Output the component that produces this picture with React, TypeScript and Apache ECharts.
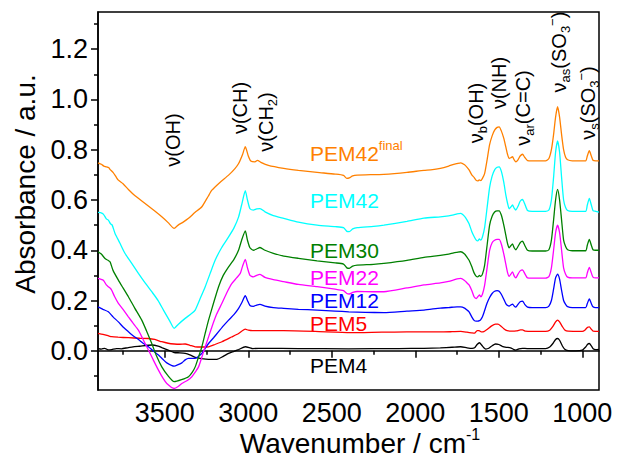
import React, { useEffect, useRef } from "react";
import * as echarts from "echarts";

// ---- data (wavenumber cm-1, absorbance a.u.) ----
const pem42final = [[3900,0.748],[3880,0.742],[3865,0.735],[3850,0.732],[3835,0.728],[3828,0.722],[3810,0.71],[3790,0.69],[3778,0.679],[3750,0.665],[3718,0.642],[3680,0.618],[3618,0.586],[3560,0.556],[3518,0.533],[3480,0.51],[3444,0.487],[3420,0.5],[3390,0.512],[3358,0.527],[3320,0.55],[3278,0.573],[3240,0.615],[3218,0.639],[3170,0.67],[3118,0.699],[3080,0.725],[3058,0.745],[3035,0.78],[3018,0.812],[3000,0.775],[2985,0.755],[2960,0.752],[2945,0.758],[2925,0.75],[2880,0.738],[2788,0.726],[2700,0.718],[2588,0.71],[2480,0.703],[2430,0.698],[2410,0.686],[2395,0.688],[2375,0.696],[2348,0.699],[2250,0.701],[2188,0.702],[2050,0.71],[1948,0.718],[1908,0.72],
  [1850,0.726],[1800,0.735],[1770,0.742],[1750,0.745],[1728,0.748],[1705,0.74],[1690,0.73],[1678,0.72],[1662,0.7],[1648,0.69],[1635,0.678],[1626,0.676],[1616,0.68],[1608,0.677],[1598,0.686],[1585,0.705],[1570,0.76],[1555,0.82],[1540,0.855],[1525,0.878],[1510,0.889],[1498,0.891],[1485,0.875],[1470,0.845],[1458,0.811],[1447,0.78],[1438,0.765],[1428,0.768],[1418,0.772],[1408,0.76],[1398,0.752],[1385,0.76],[1372,0.775],[1358,0.782],[1345,0.77],[1328,0.757],[1300,0.756],[1220,0.756],[1200,0.765],[1185,0.8],[1172,0.86],[1160,0.93],[1148,0.971],[1136,0.93],[1124,0.86],[1112,0.8],[1100,0.77],[1088,0.76],[1060,0.756],[980,0.756],[970,0.775],[958,0.796],[946,0.775],[936,0.758],[920,0.756],[900,0.756]];

const pem42 = [[3900,0.551],[3885,0.55],[3868,0.544],[3850,0.525],[3838,0.52],[3825,0.505],[3815,0.5],[3798,0.467],[3770,0.43],[3738,0.387],[3700,0.35],[3658,0.308],[3620,0.272],[3578,0.235],[3540,0.2],[3508,0.162],[3470,0.118],[3444,0.089],[3420,0.105],[3378,0.129],[3340,0.148],[3318,0.162],[3290,0.205],[3258,0.255],[3230,0.305],[3198,0.361],[3160,0.41],[3118,0.453],[3085,0.49],[3058,0.533],[3040,0.58],[3018,0.637],[3005,0.6],[2990,0.565],[2970,0.56],[2950,0.565],[2930,0.566],[2900,0.553],[2850,0.538],[2788,0.527],[2700,0.512],[2588,0.5],[2480,0.494],[2430,0.49],[2410,0.475],[2395,0.474],[2375,0.485],[2348,0.49],[2250,0.495],[2188,0.5],[2050,0.515],[1948,0.528],
  [1850,0.533],[1800,0.537],[1770,0.541],[1750,0.545],[1728,0.547],[1705,0.535],[1690,0.52],[1678,0.505],[1662,0.475],[1648,0.455],[1635,0.44],[1626,0.437],[1616,0.445],[1608,0.44],[1598,0.453],[1585,0.49],[1570,0.57],[1555,0.65],[1540,0.695],[1525,0.72],[1510,0.73],[1498,0.732],[1485,0.715],[1470,0.67],[1458,0.62],[1447,0.585],[1438,0.565],[1428,0.572],[1418,0.58],[1408,0.568],[1398,0.56],[1385,0.575],[1372,0.595],[1358,0.602],[1345,0.585],[1328,0.558],[1300,0.555],[1220,0.555],[1200,0.56],[1185,0.6],[1172,0.69],[1160,0.79],[1148,0.835],[1136,0.79],[1124,0.69],[1112,0.6],[1100,0.57],[1088,0.558],[1060,0.555],[980,0.555],[970,0.58],[958,0.606],[946,0.58],[936,0.558],[920,0.555],[900,0.552]];

const pem30 = [[3900,0.394],[3880,0.385],[3858,0.367],[3840,0.36],[3828,0.354],[3810,0.32],[3778,0.281],[3750,0.25],[3718,0.215],[3680,0.17],[3638,0.122],[3610,0.08],[3578,0.029],[3550,-0.02],[3518,-0.064],[3480,-0.1],[3444,-0.123],[3400,-0.115],[3358,-0.103],[3335,-0.085],[3318,-0.064],[3298,-0.025],[3278,0.016],[3258,0.07],[3238,0.122],[3208,0.19],[3178,0.255],[3150,0.3],[3118,0.334],[3085,0.365],[3058,0.401],[3040,0.44],[3018,0.477],[3005,0.44],[2990,0.41],[2970,0.4],[2950,0.405],[2930,0.411],[2900,0.4],[2850,0.388],[2788,0.377],[2700,0.368],[2588,0.358],[2480,0.35],[2430,0.345],[2410,0.33],[2395,0.328],[2375,0.337],[2348,0.341],[2250,0.344],[2188,0.348],[2050,0.36],[1948,0.372],
  [1850,0.38],[1800,0.385],[1770,0.39],[1750,0.392],[1728,0.394],[1705,0.385],[1690,0.372],[1678,0.36],[1662,0.335],[1648,0.31],[1635,0.296],[1626,0.294],[1616,0.3],[1608,0.296],[1598,0.305],[1585,0.34],[1570,0.42],[1555,0.5],[1540,0.535],[1525,0.552],[1510,0.557],[1498,0.557],[1485,0.54],[1470,0.5],[1458,0.46],[1447,0.425],[1438,0.41],[1428,0.418],[1418,0.425],[1408,0.41],[1398,0.402],[1385,0.415],[1372,0.43],[1358,0.436],[1345,0.42],[1328,0.4],[1300,0.397],[1220,0.397],[1200,0.402],[1185,0.44],[1172,0.52],[1160,0.6],[1148,0.642],[1136,0.6],[1124,0.52],[1112,0.44],[1100,0.415],[1088,0.402],[1060,0.398],[980,0.398],[970,0.42],[958,0.443],[946,0.42],[936,0.402],[920,0.4],[900,0.4]];

const pem22 = [[3900,0.288],[3885,0.285],[3868,0.281],[3850,0.262],[3838,0.255],[3825,0.248],[3818,0.241],[3800,0.215],[3778,0.189],[3750,0.165],[3718,0.135],[3690,0.11],[3658,0.082],[3630,0.045],[3598,0.003],[3570,-0.035],[3538,-0.077],[3510,-0.11],[3488,-0.13],[3444,-0.15],[3420,-0.142],[3398,-0.13],[3365,-0.118],[3338,-0.103],[3318,-0.085],[3298,-0.064],[3278,-0.025],[3258,0.016],[3238,0.055],[3218,0.095],[3190,0.145],[3158,0.189],[3128,0.232],[3098,0.268],[3070,0.29],[3048,0.308],[3035,0.335],[3018,0.364],[3005,0.33],[2990,0.3],[2970,0.294],[2950,0.3],[2930,0.304],[2900,0.292],[2850,0.283],[2788,0.275],[2700,0.264],[2588,0.255],[2480,0.245],[2430,0.239],[2410,0.228],[2395,0.226],[2375,0.232],[2348,0.236],[2250,0.235],[2188,0.235],[2050,0.25],[1948,0.262],
  [1850,0.27],[1800,0.276],[1770,0.282],[1750,0.286],[1728,0.288],[1705,0.28],[1690,0.27],[1678,0.262],[1662,0.24],[1648,0.215],[1635,0.208],[1626,0.215],[1616,0.222],[1608,0.215],[1598,0.225],[1585,0.26],[1570,0.33],[1555,0.4],[1540,0.43],[1525,0.44],[1510,0.443],[1498,0.443],[1485,0.425],[1470,0.385],[1458,0.345],[1447,0.31],[1438,0.296],[1428,0.305],[1418,0.314],[1408,0.298],[1398,0.29],[1385,0.305],[1372,0.318],[1358,0.322],[1345,0.308],[1328,0.29],[1300,0.289],[1220,0.289],[1200,0.295],[1185,0.33],[1172,0.4],[1160,0.47],[1148,0.5],[1136,0.47],[1124,0.4],[1112,0.33],[1100,0.305],[1088,0.293],[1060,0.29],[980,0.29],[970,0.31],[958,0.332],[946,0.31],[936,0.293],[920,0.29],[900,0.29]];

const pem12 = [[3900,0.175],[3870,0.165],[3838,0.155],[3810,0.135],[3778,0.115],[3750,0.095],[3718,0.076],[3690,0.06],[3658,0.045],[3630,0.03],[3598,0.016],[3570,0.0],[3538,-0.017],[3510,-0.035],[3488,-0.048],[3444,-0.061],[3420,-0.055],[3398,-0.048],[3378,-0.036],[3358,-0.03],[3318,-0.03],[3298,-0.022],[3278,-0.01],[3258,0.01],[3238,0.029],[3208,0.052],[3178,0.076],[3148,0.1],[3118,0.122],[3085,0.145],[3058,0.169],[3040,0.19],[3018,0.219],[3005,0.2],[2990,0.18],[2970,0.177],[2950,0.182],[2930,0.185],[2900,0.178],[2850,0.172],[2788,0.169],[2700,0.165],[2588,0.162],[2480,0.158],[2398,0.155],[2300,0.153],[2188,0.152],[2050,0.158],[1948,0.162],
  [1850,0.17],[1800,0.172],[1770,0.174],[1750,0.175],[1728,0.175],[1705,0.17],[1690,0.162],[1678,0.155],[1662,0.135],[1648,0.121],[1635,0.118],[1626,0.118],[1616,0.12],[1608,0.124],[1598,0.135],[1585,0.16],[1570,0.19],[1555,0.212],[1540,0.228],[1525,0.237],[1510,0.239],[1498,0.237],[1485,0.225],[1470,0.205],[1458,0.188],[1447,0.18],[1438,0.178],[1428,0.182],[1418,0.186],[1408,0.178],[1398,0.174],[1385,0.185],[1372,0.195],[1358,0.198],[1345,0.185],[1328,0.174],[1300,0.172],[1220,0.172],[1200,0.178],[1185,0.2],[1172,0.245],[1160,0.29],[1148,0.305],[1136,0.285],[1124,0.24],[1112,0.2],[1100,0.185],[1088,0.176],[1060,0.172],[980,0.172],[970,0.188],[958,0.206],[946,0.188],[936,0.175],[920,0.172],[900,0.172]];

const pem5 = [[3900,0.069],[3870,0.065],[3840,0.06],[3818,0.056],[3780,0.054],[3718,0.052],[3650,0.05],[3598,0.049],[3560,0.045],[3518,0.036],[3480,0.03],[3444,0.027],[3410,0.026],[3378,0.027],[3350,0.022],[3318,0.016],[3280,0.015],[3238,0.016],[3200,0.025],[3158,0.036],[3100,0.055],[3058,0.069],[3018,0.086],[3000,0.082],[2974,0.08],[2900,0.08],[2788,0.08],[2600,0.077],[2388,0.072],[2200,0.074],[2050,0.075],[1948,0.075],
  [1850,0.075],[1780,0.076],[1728,0.077],[1690,0.074],[1660,0.071],[1645,0.07],[1630,0.08],[1618,0.08],[1605,0.075],[1590,0.076],[1570,0.085],[1545,0.098],[1520,0.106],[1505,0.106],[1490,0.1],[1470,0.088],[1450,0.08],[1420,0.078],[1395,0.079],[1370,0.083],[1358,0.083],[1340,0.078],[1300,0.077],[1220,0.077],[1195,0.082],[1175,0.098],[1160,0.115],[1148,0.122],[1136,0.115],[1120,0.097],[1105,0.083],[1085,0.078],[1000,0.077],[985,0.082],[968,0.094],[958,0.095],[946,0.086],[935,0.078],[900,0.077]];

const pem4 = [[3900,0.009],[3880,0.007],[3860,0.01],[3840,0.004],[3818,0.005],[3790,0.009],[3760,0.008],[3718,0.013],[3650,0.018],[3578,0.023],[3540,0.019],[3518,0.013],[3480,0.003],[3444,-0.007],[3410,-0.008],[3378,-0.01],[3350,-0.016],[3318,-0.026],[3280,-0.031],[3238,-0.034],[3188,-0.034],[3150,-0.022],[3118,-0.01],[3085,-0.002],[3058,0.005],[3018,0.016],[2990,0.012],[2974,0.009],[2900,0.01],[2700,0.009],[2400,0.008],[2100,0.009],[1948,0.01],
  [1850,0.012],[1780,0.014],[1728,0.016],[1690,0.012],[1660,0.01],[1645,0.012],[1630,0.025],[1616,0.032],[1602,0.022],[1590,0.012],[1578,0.007],[1560,0.01],[1540,0.02],[1520,0.027],[1500,0.025],[1480,0.018],[1455,0.014],[1430,0.012],[1410,0.005],[1398,0.003],[1380,0.008],[1358,0.01],[1330,0.009],[1220,0.009],[1195,0.015],[1175,0.03],[1160,0.045],[1148,0.049],[1136,0.042],[1120,0.02],[1105,0.006],[1085,0.001],[1040,0.0],[1000,0.003],[980,0.015],[968,0.026],[958,0.029],[946,0.02],[935,0.008],[920,0.005],[900,0.006]];

const seriesNames = ["PEM4", "PEM5", "PEM12", "PEM22", "PEM30", "PEM42", "PEM42final"];
const seriesColors = ["#000000", "#FF0000", "#0000FF", "#FF00FF", "#008000", "#00FFFF", "#FF8000"];
const seriesData = [pem4, pem5, pem12, pem22, pem30, pem42, pem42final];

const xMajorTicks = [3500, 3000, 2500, 2000, 1500, 1000];
const xMinorTicks = [3750, 3250, 2750, 2250, 1750, 1250];
const yMajorTicks = [0, 0.2, 0.4, 0.6, 0.8, 1.0, 1.2];
const yMinorTicks = [-0.1, 0.1, 0.3, 0.5, 0.7, 0.9, 1.1, 1.3];

const FONT = "'Liberation Sans', Arial, Helvetica, sans-serif";
const NARROW = "'Liberation Sans Narrow', 'Arial Narrow', 'Liberation Sans', Arial, sans-serif";

export default function App() {
  const ref = useRef<HTMLDivElement>(null);
  useEffect(() => {
    if (!ref.current) return;
    const chart = echarts.init(ref.current, null, { renderer: "svg" });

    const richBase = {
      m: { fontSize: 20, fontFamily: FONT, fill: "#000", lineHeight: 26 },
      s: { fontSize: 13, fontFamily: FONT, fill: "#000", lineHeight: 13, verticalAlign: "bottom" },
      p: { fontSize: 13, fontFamily: FONT, fill: "#000", lineHeight: 13, verticalAlign: "top" },
    };
    const ann = (text: string, x: number, y: number) => ({
      type: "text",
      x,
      y,
      rotation: Math.PI / 2,
      style: { text, rich: richBase, align: "center", verticalAlign: "middle", fill: "#000" },
    });
    const pemLabel = (i: number, y: number) => {
      const color = seriesColors[i];
      const name = seriesNames[i];
      const text = name === "PEM42final" ? "{m|PEM42}{p|final}" : "{m|" + name + "}";
      return {
        type: "text",
        x: 310,
        y,
        style: {
          text,
          fill: color,
          align: "left",
          verticalAlign: "middle",
          rich: {
            m: { fontSize: 21, fontFamily: FONT, fill: color, lineHeight: 28 },
            p: { fontSize: 13, fontFamily: FONT, fill: color, lineHeight: 13, verticalAlign: "top" },
          },
        },
      };
    };

    chart.setOption({
      animation: false,
      grid: { left: 98, right: 22, top: 12, bottom: 69, show: true, borderColor: "#000", borderWidth: 1.5, backgroundColor: "transparent" },
      xAxis: [
        {
          type: "value", position: "bottom", min: 900, max: 3900, inverse: true,
          axisLine: { show: true, lineStyle: { color: "#000", width: 1.5 } },
          axisTick: { show: true, inside: false, length: 7, customValues: xMajorTicks, lineStyle: { color: "#000", width: 1.5 } },
          axisLabel: { show: true, customValues: xMajorTicks, fontSize: 27, fontFamily: NARROW, color: "#000", margin: 9, formatter: (v: number) => String(v) },
          splitLine: { show: false },
        },
        {
          type: "value", position: "bottom", min: 900, max: 3900, inverse: true,
          axisLine: { show: false },
          axisTick: { show: true, inside: false, length: 4, customValues: xMinorTicks, lineStyle: { color: "#000", width: 1.5 } },
          axisLabel: { show: false },
          splitLine: { show: false },
        },
      ],
      yAxis: [
        {
          type: "value", position: "left", min: -0.156, max: 1.348,
          axisLine: { show: true, lineStyle: { color: "#000", width: 1.5 } },
          axisTick: { show: true, inside: false, length: 7, customValues: yMajorTicks, lineStyle: { color: "#000", width: 1.5 } },
          axisLabel: { show: true, customValues: yMajorTicks, fontSize: 27, fontFamily: NARROW, color: "#000", margin: 10, formatter: (v: number) => v.toFixed(1) },
          splitLine: { show: false },
        },
        {
          type: "value", position: "left", min: -0.156, max: 1.348,
          axisLine: { show: false },
          axisTick: { show: true, inside: false, length: 4, customValues: yMinorTicks, lineStyle: { color: "#000", width: 1.5 } },
          axisLabel: { show: false },
          splitLine: { show: false },
        },
      ],
      series: seriesData.map((d, i) => ({
        type: "line",
        name: seriesNames[i],
        data: d,
        xAxisIndex: 0,
        yAxisIndex: 0,
        showSymbol: false,
        smooth: 0.2,
        lineStyle: { color: seriesColors[i], width: 1.3 },
        itemStyle: { color: seriesColors[i] },
        silent: true,
      })),
      graphic: [
        {
          type: "text", x: 25, y: 184, rotation: Math.PI / 2,
          style: { text: "Absorbance / a.u.", fontSize: 28, fontFamily: FONT, fill: "#000", align: "center", verticalAlign: "middle" },
        },
        {
          type: "text", x: 360, y: 443,
          style: {
            text: "{m|Wavenumber / cm}{p|-1}", align: "center", verticalAlign: "middle",
            rich: {
              m: { fontSize: 28, fontFamily: FONT, fill: "#000", lineHeight: 34 },
              p: { fontSize: 16, fontFamily: FONT, fill: "#000", lineHeight: 16, verticalAlign: "top" },
            },
          },
        },
        ann("{m|ν(OH)}", 173, 140),
        ann("{m|ν(CH)}", 240, 108),
        ann("{m|ν(CH}{s|2}{m|)}", 266, 122),
        ann("{m|ν}{s|b}{m|(OH)}", 476, 113),
        ann("{m|ν(NH)}", 499, 83),
        ann("{m|ν}{s|ar}{m|(C=C)}", 523, 108),
        ann("{m|ν}{s|as}{m|(SO}{s|3}{p|−}{m|)}", 559, 52),
        ann("{m|ν}{s|s}{m|(SO}{s|3}{p|−}{m|)}", 588, 103),
        pemLabel(6, 153),
        pemLabel(5, 200),
        pemLabel(4, 250),
        pemLabel(3, 277),
        pemLabel(2, 300),
        pemLabel(1, 323),
        pemLabel(0, 365),
      ],
    });
    return () => chart.dispose();
  }, []);
  return <div ref={ref} style={{ position: "fixed", left: 0, top: 0, width: 621, height: 459, background: "#fff" }} />;
}
